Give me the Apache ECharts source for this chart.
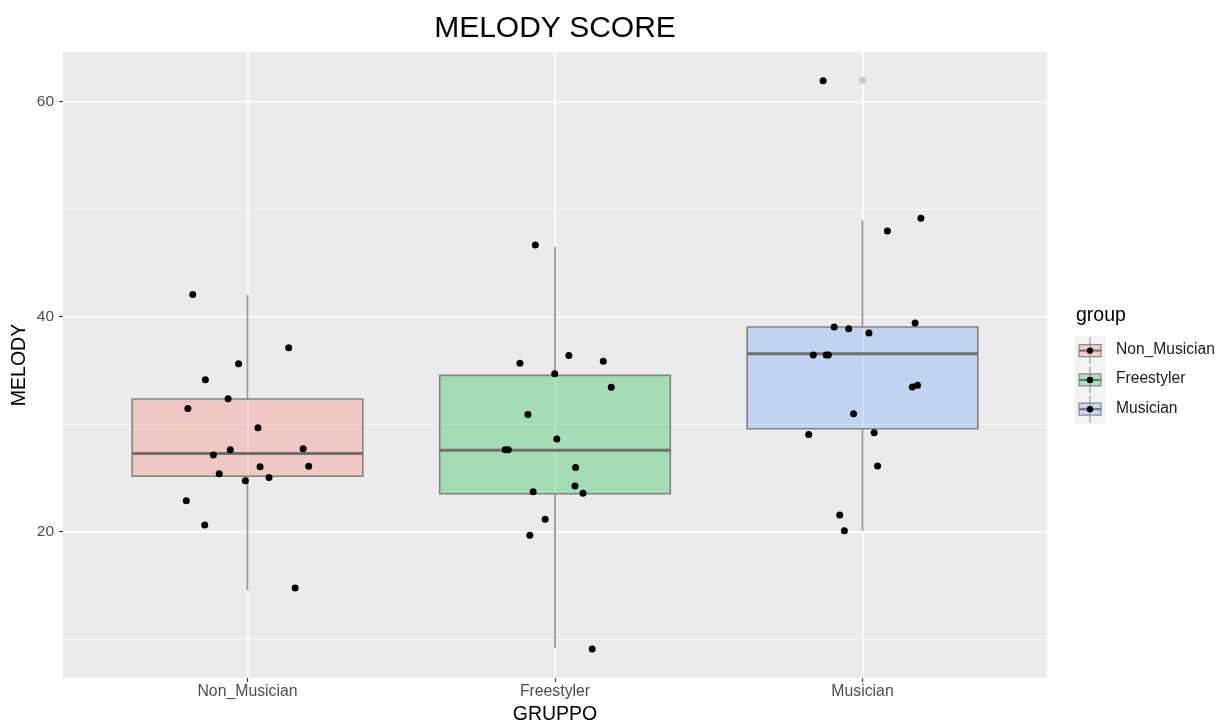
<!DOCTYPE html>
<html>
<head>
<meta charset="utf-8">
<title>MELODY SCORE</title>
<script src="https://cdn.jsdelivr.net/npm/echarts@6/dist/echarts.min.js"></script>
<style>
  html, body { margin: 0; padding: 0; background: #ffffff; }
  #chart { width: 1230px; height: 722px; }
</style>
</head>
<body>
<div id="chart"></div>
<script>
// ---- data ----------------------------------------------------------------
const groups = ['Non_Musician', 'Freestyler', 'Musician'];
const groupColors = ['#F8766D', '#00BA38', '#619CFF'];

// box statistics per group: [lower whisker, Q1, median, Q3, upper whisker]
const boxNonMusician = [14.54, 25.16, 27.28, 32.34, 42.02];
const boxFreestyler  = [9.18, 23.53, 27.57, 34.54, 46.48];
const boxMusician    = [20.06, 29.58, 36.56, 39.04, 48.96];

// outliers flagged by the boxplot: [group position, MELODY]
const outliers = [[3, 62.0]];

// jittered observations: [position on x, MELODY]
const pointsNonMusician = [
  [0.822, 42.07], [1.134, 37.12], [0.971, 35.63], [0.863, 34.14], [0.937, 32.37],
  [0.806, 31.47], [1.034, 29.67], [0.944, 27.63], [1.181, 27.72], [0.889, 27.13],
  [1.041, 26.05], [1.199, 26.08], [0.908, 25.40], [1.070, 25.05], [0.993, 24.74],
  [0.801, 22.88], [0.861, 20.62], [1.155, 14.76]
];
const pointsFreestyler = [
  [1.936, 46.67], [2.045, 36.40], [1.886, 35.66], [2.157, 35.85], [1.999, 34.70],
  [2.183, 33.43], [1.912, 30.91], [2.006, 28.62], [1.838, 27.63], [1.848, 27.63],
  [2.067, 25.98], [2.065, 24.25], [2.091, 23.57], [1.929, 23.72], [1.968, 21.15],
  [1.918, 19.66], [2.121, 9.09]
];
const pointsMusician = [
  [2.872, 61.95], [3.190, 49.15], [3.081, 47.97], [3.171, 39.41], [2.908, 39.04],
  [2.955, 38.88], [3.021, 38.48], [2.840, 36.43], [2.882, 36.43], [2.889, 36.43],
  [3.162, 33.46], [3.179, 33.61], [2.971, 30.98], [2.825, 29.05], [3.038, 29.21],
  [3.049, 26.11], [2.926, 21.55], [2.941, 20.09]
];

const yTicks = [20, 40, 60];
const yMinorGrid = [10, 30, 50];
const xTicks = [1, 2, 3];

// ---- chart ---------------------------------------------------------------
const FONT = '"Liberation Sans", Arial, Helvetica, sans-serif';
const boxStats = [boxNonMusician, boxFreestyler, boxMusician];
const boxData = boxStats.map((s, i) => [i + 1].concat(s));
const BOX_HALF = 0.375;

function hexToRgba(hex, a) {
  const n = parseInt(hex.slice(1), 16);
  return 'rgba(' + ((n >> 16) & 255) + ',' + ((n >> 8) & 255) + ',' + (n & 255) + ',' + a + ')';
}

function renderBox(params, api) {
  const x = api.value(0);
  const lo = api.value(1), q1 = api.value(2), med = api.value(3), q3 = api.value(4), hi = api.value(5);
  const left = api.coord([x - BOX_HALF, q3]);
  const right = api.coord([x + BOX_HALF, q1]);
  const center = api.coord([x, med]);
  const pLo = api.coord([x, lo]);
  const pHi = api.coord([x, hi]);
  const idx = params.dataIndex;
  return {
    type: 'group',
    children: [
      { type: 'line', shape: { x1: center[0], y1: pHi[1], x2: center[0], y2: left[1] },
        style: { stroke: '#999999', lineWidth: 1.8 } },
      { type: 'line', shape: { x1: center[0], y1: right[1], x2: center[0], y2: pLo[1] },
        style: { stroke: '#999999', lineWidth: 1.8 } },
      { type: 'rect', shape: { x: left[0], y: left[1], width: right[0] - left[0], height: right[1] - left[1] },
        style: { fill: hexToRgba(groupColors[idx], 0.3), stroke: '#828282', lineWidth: 1.6 } },
      { type: 'line', shape: { x1: left[0], y1: center[1], x2: right[0], y2: center[1] },
        style: { stroke: '#6f6f6f', lineWidth: 3 } }
    ]
  };
}

// legend keys: miniature box glyph with a point in the middle
const legendChildren = [
  { type: 'text', x: 1076, y: 306,
    style: { text: 'group', font: '19.5px ' + FONT, fill: '#000000' } }
];
groups.forEach((g, i) => {
  const top = 336 + i * 29.3;
  const cx = 1090, cy = top + 14.6;
  legendChildren.push(
    { type: 'rect', shape: { x: 1075, y: top, width: 30, height: 29.3 }, style: { fill: '#F2F2F2' } },
    { type: 'line', shape: { x1: cx, y1: top + 1.5, x2: cx, y2: top + 27.8 }, style: { stroke: '#9a9a9a', lineWidth: 1.2 } },
    { type: 'rect', shape: { x: 1079, y: cy - 6, width: 22, height: 12 },
      style: { fill: hexToRgba(groupColors[i], 0.3), stroke: '#8a8a8a', lineWidth: 1.2 } },
    { type: 'line', shape: { x1: 1079, y1: cy, x2: 1101, y2: cy }, style: { stroke: '#6f6f6f', lineWidth: 2 } },
    { type: 'circle', shape: { cx: cx, cy: cy, r: 3.2 }, style: { fill: '#000000' } },
    { type: 'text', x: 1116, y: cy - 9,
      style: { text: g, font: '15.6px ' + FONT, fill: '#1a1a1a' } }
  );
});

const chart = echarts.init(document.getElementById('chart'), null, { renderer: 'canvas' });
chart.setOption({
  animation: false,
  backgroundColor: '#ffffff',
  textStyle: { fontFamily: FONT },
  graphic: [
    { type: 'text', x: 555, y: 14,
      style: { text: 'MELODY SCORE', font: '30px ' + FONT, fill: '#000000', align: 'center', textAlign: 'center' } },
    // y axis title
    { type: 'text', x: 20, y: 365, rotation: Math.PI / 2,
      style: { text: 'MELODY', font: '19.5px ' + FONT, fill: '#000000', align: 'center', verticalAlign: 'middle' } }
  ].concat(legendChildren),
  grid: {
    left: 63, right: 183, top: 52, bottom: 44,
    containLabel: false, outerBoundsMode: 'none',
    show: true, backgroundColor: '#EBEBEB', borderWidth: 0
  },
  xAxis: {
    type: 'value', min: 0.4, max: 3.6,
    name: 'GRUPPO', nameLocation: 'middle', nameGap: 26,
    nameTextStyle: { fontSize: 19.5, color: '#000000', fontFamily: FONT },
    axisLine: { show: false },
    axisTick: { show: true, length: 4, lineStyle: { color: '#333333', width: 1.1 }, customValues: xTicks },
    axisLabel: {
      customValues: xTicks, margin: 6, fontSize: 15.8, color: '#4D4D4D', fontFamily: FONT,
      formatter: v => groups[Math.round(v) - 1] || ''
    },
    splitLine: { show: false }
  },
  yAxis: {
    type: 'value', min: 6.39, max: 64.62,
    axisLine: { show: false },
    axisTick: { show: true, length: 4, lineStyle: { color: '#333333', width: 1.1 }, customValues: yTicks },
    axisLabel: { customValues: yTicks, margin: 9, fontSize: 15.5, color: '#4D4D4D', fontFamily: FONT },
    splitLine: { show: false }
  },
  series: [
    {
      // panel grid lines
      type: 'scatter', data: [], silent: true, z: 1,
      markLine: {
        silent: true, symbol: 'none', label: { show: false }, animation: false, z: 1,
        data: yMinorGrid.map(v => ({ yAxis: v, lineStyle: { color: '#ffffff', width: 0.8, type: 'solid', opacity: 1 } }))
          .concat(yTicks.map(v => ({ yAxis: v, lineStyle: { color: '#ffffff', width: 1.6, type: 'solid', opacity: 1 } })))
          .concat(xTicks.map(v => ({ xAxis: v, lineStyle: { color: '#ffffff', width: 1.6, type: 'solid', opacity: 1 } })))
      }
    },
    {
      type: 'custom', z: 3, silent: true,
      renderItem: renderBox,
      encode: { x: 0, y: [1, 2, 3, 4, 5] },
      data: boxData
    },
    {
      type: 'scatter', z: 4, silent: true,
      symbolSize: 7, itemStyle: { color: '#c9c9c9', opacity: 1 },
      data: outliers
    },
    {
      type: 'scatter', z: 5, silent: true, name: groups[0],
      symbolSize: 7, itemStyle: { color: '#000000', opacity: 1 },
      data: pointsNonMusician
    },
    {
      type: 'scatter', z: 5, silent: true, name: groups[1],
      symbolSize: 7, itemStyle: { color: '#000000', opacity: 1 },
      data: pointsFreestyler
    },
    {
      type: 'scatter', z: 5, silent: true, name: groups[2],
      symbolSize: 7, itemStyle: { color: '#000000', opacity: 1 },
      data: pointsMusician
    }
  ]
});
</script>
</body>
</html>
